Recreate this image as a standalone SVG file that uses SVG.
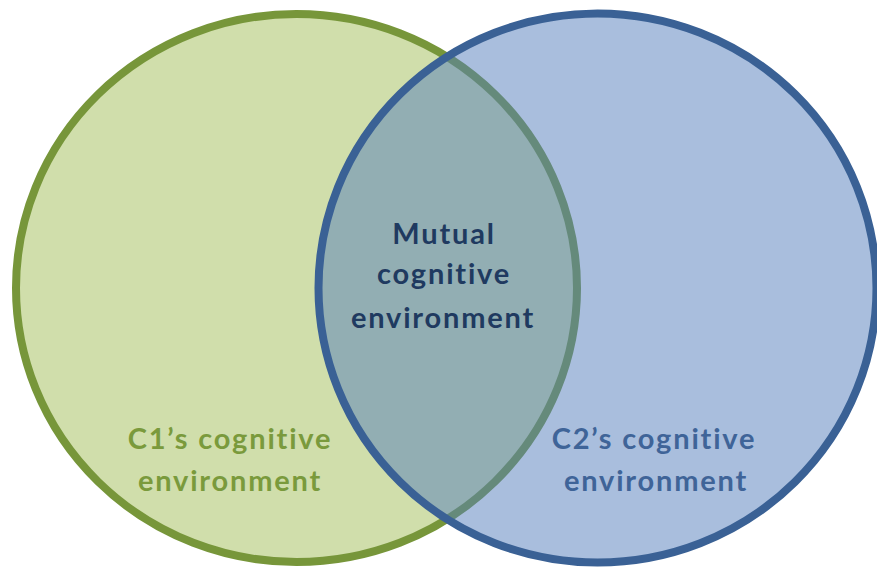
<svg xmlns="http://www.w3.org/2000/svg" width="877" height="569" viewBox="0 0 877 569">
<style>
text{font-family:"Lato","Liberation Sans",sans-serif;font-weight:bold;font-size:29px;text-anchor:middle;letter-spacing:1.8px;font-variant-ligatures:none}
.c1{fill:#d0deab;stroke:#77963a;stroke-width:8}
.c2{fill:#537dbb;fill-opacity:0.5;stroke:#3a6195;stroke-width:8}
.t1{fill:#7a9a3c}
.t2{fill:#3f6498}
.tm{fill:#1f3a60}
</style>
<rect width="877" height="569" fill="#ffffff"/>
<g id="c1">
<ellipse class="c1" cx="296.5" cy="288" rx="280.5" ry="274"/>
</g>
<g id="c2">
<ellipse class="c2" cx="597.5" cy="288" rx="279" ry="274.5"/>
</g>
<g id="labels">
<text class="tm" x="444" y="244">Mutual</text>
<text class="tm" x="444" y="284">cognitive</text>
<text class="tm" x="443" y="328">environment</text>
<text class="t1" x="230" y="449">C1’s cognitive</text>
<text class="t1" x="230" y="491">environment</text>
<text class="t2" x="654" y="449">C2’s cognitive</text>
<text class="t2" x="656" y="491">environment</text>
</g>
<g id="connectors"/>
</svg>
